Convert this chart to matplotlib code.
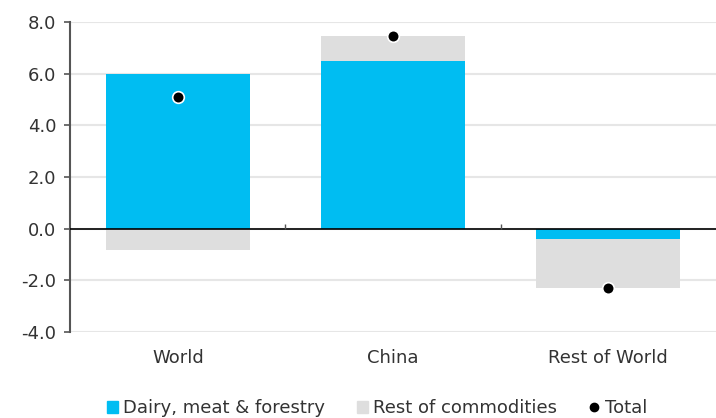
import numpy as np
import matplotlib
matplotlib.use("Agg")
import matplotlib.pyplot as plt
from matplotlib.lines import Line2D
from matplotlib.patches import Patch

categories = ["World", "China", "Rest of World"]
dairy = [6.0, 6.5, -0.42]
rest = [-0.82, 0.95, -1.88]
total = [5.1, 7.48, -2.3]

blue = "#00bdf2"
grey = "#dedede"
txt = "#333333"

plt.rcParams["font.family"] = "DejaVu Sans"
plt.rcParams["font.size"] = 13

fig = plt.figure(figsize=(7.16, 4.18), dpi=100)
ax = fig.add_axes([0.098, 0.206, 0.902, 0.741])

x = np.arange(len(categories))
w = 0.67
dairy = np.array(dairy)
rest = np.array(rest)
# stack: positive parts go up from zero, negative parts go down
bottom_rest = np.where(np.sign(rest) == np.sign(dairy), dairy, 0)
ax.bar(x, dairy, w, color=blue, zorder=2)
ax.bar(x, rest, w, bottom=bottom_rest, color=grey, zorder=2)
ax.scatter(x, total, s=70, color="black", edgecolor="white", linewidth=1.2, zorder=4)

ax.axhline(0, color="black", linewidth=1.2, zorder=3)
mids = x[:-1] + 0.5
ax.vlines(mids, 0, 0.18, color="#555555", linewidth=1, zorder=3)

ax.set_xlim(-0.5, 2.5)
ax.set_ylim(-4, 8)
ax.set_yticks(np.arange(-4, 9, 2))
ax.set_yticklabels([f"{v:.1f}" for v in np.arange(-4, 9, 2)])
ax.set_xticks(x)
ax.set_xticklabels(categories)
ax.grid(axis="y", color="#e6e6e6", linewidth=1.5, zorder=0)

for s in ["top", "right", "bottom"]:
    ax.spines[s].set_visible(False)
ax.spines["left"].set_color("#555555")
ax.spines["left"].set_linewidth(1.5)
ax.tick_params(axis="y", colors="#555555", labelcolor=txt, length=4, width=1.2, pad=6)
ax.tick_params(axis="x", length=0, labelcolor=txt, pad=12)

handles = [
    Patch(color=blue, label="Dairy, meat & forestry"),
    Patch(color=grey, label="Rest of commodities"),
    Line2D([], [], marker="o", color="black", linestyle="none", markersize=6, label="Total"),
]
fig.legend(handles=handles, loc="lower center", bbox_to_anchor=(0.527, -0.037), ncol=3,
           frameon=False, handlelength=0.6, handleheight=0.6, handletextpad=0.3,
           columnspacing=1.75, labelcolor=txt)

fig.savefig("out.png", dpi=100, facecolor="white")
